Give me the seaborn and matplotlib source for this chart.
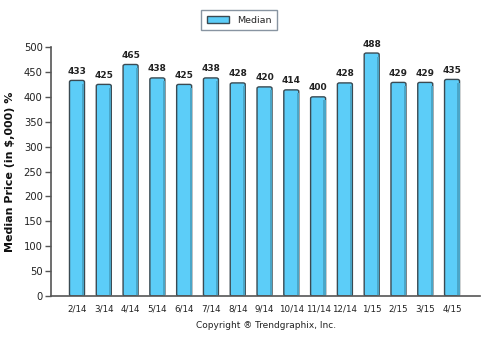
import matplotlib
matplotlib.use("Agg")
import matplotlib.pyplot as plt
import seaborn as sns
import pandas as pd
from matplotlib.patches import FancyBboxPatch, Patch

months = ["2/14", "3/14", "4/14", "5/14", "6/14", "7/14", "8/14", "9/14",
          "10/14", "11/14", "12/14", "1/15", "2/15", "3/15", "4/15"]
median_price = [433, 425, 465, 438, 425, 438, 428, 420, 414, 400, 428, 488, 429, 429, 435]
y_ticks = [0, 50, 100, 150, 200, 250, 300, 350, 400, 450, 500]

sns.set_theme(style="white")
plt.rcParams["font.family"] = ["DejaVu Sans"]

BAR = "#5ccdf8"
EDGE = "#3a4a52"

df = pd.DataFrame({"month": months, "price": median_price})

fig = plt.figure(figsize=(4.83, 3.41), dpi=100)
ax = fig.add_axes([0.1056, 0.132, 0.888, 0.730])

sns.barplot(data=df, x="month", y="price", color=BAR, width=0.56,
            saturation=1, edgecolor=EDGE, linewidth=1.0, ax=ax)

# replace the plain rectangles with rounded-top bars
for p in list(ax.patches):
    x, y = p.get_x(), p.get_y()
    w, h = p.get_width(), p.get_height()
    p.set_visible(False)
    fb = FancyBboxPatch((x, y), w, h,
                        boxstyle="round,pad=0,rounding_size=0.08",
                        mutation_aspect=40,
                        facecolor=BAR, edgecolor=EDGE, linewidth=1.0, zorder=2)
    ax.add_patch(fb)
    # darker strip on the right side of each bar
    ax.add_patch(plt.Rectangle((x + w * 0.86, y), w * 0.14, h * 0.985,
                               facecolor="#4aa6c8", edgecolor="none", zorder=2.5))
    ax.text(x + w / 2, h + 9, f"{h:.0f}", ha="center", va="bottom",
            fontsize=6.5, fontweight="bold", color="#222222")

ax.set_xlim(-0.97, 15.04)
ax.set_ylim(0, 500)
ax.set_yticks(y_ticks)
ax.tick_params(axis="y", labelsize=7.2, length=4, width=1, color="#555555",
               labelcolor="#222222", direction="out", left=True, pad=2)
ax.tick_params(axis="x", labelsize=6.3, length=0, labelcolor="#222222", pad=6)
for s in ["top", "right"]:
    ax.spines[s].set_visible(False)
for s in ["left", "bottom"]:
    ax.spines[s].set_color("#555555")
    ax.spines[s].set_linewidth(1.2)

ax.set_xlabel("")
ax.set_ylabel("Median Price (in $,000) %", fontsize=8, fontweight="bold",
              color="#111111", labelpad=6)

fig.text(0.55, 0.046, "Copyright \u00ae Trendgraphix, Inc.", ha="center",
         va="center", fontsize=6.5, color="#222222")

leg = fig.legend(handles=[Patch(facecolor=BAR, edgecolor=EDGE, label="Median")],
                 loc="upper center", bbox_to_anchor=(0.495, 0.985), ncol=1,
                 fontsize=6.8, frameon=True, fancybox=False, handlelength=2.4,
                 handleheight=0.9, borderpad=0.6, edgecolor="#6a7a8a")
leg.get_frame().set_linewidth(1.0)

fig.savefig("out.png", dpi=100, facecolor="white")
